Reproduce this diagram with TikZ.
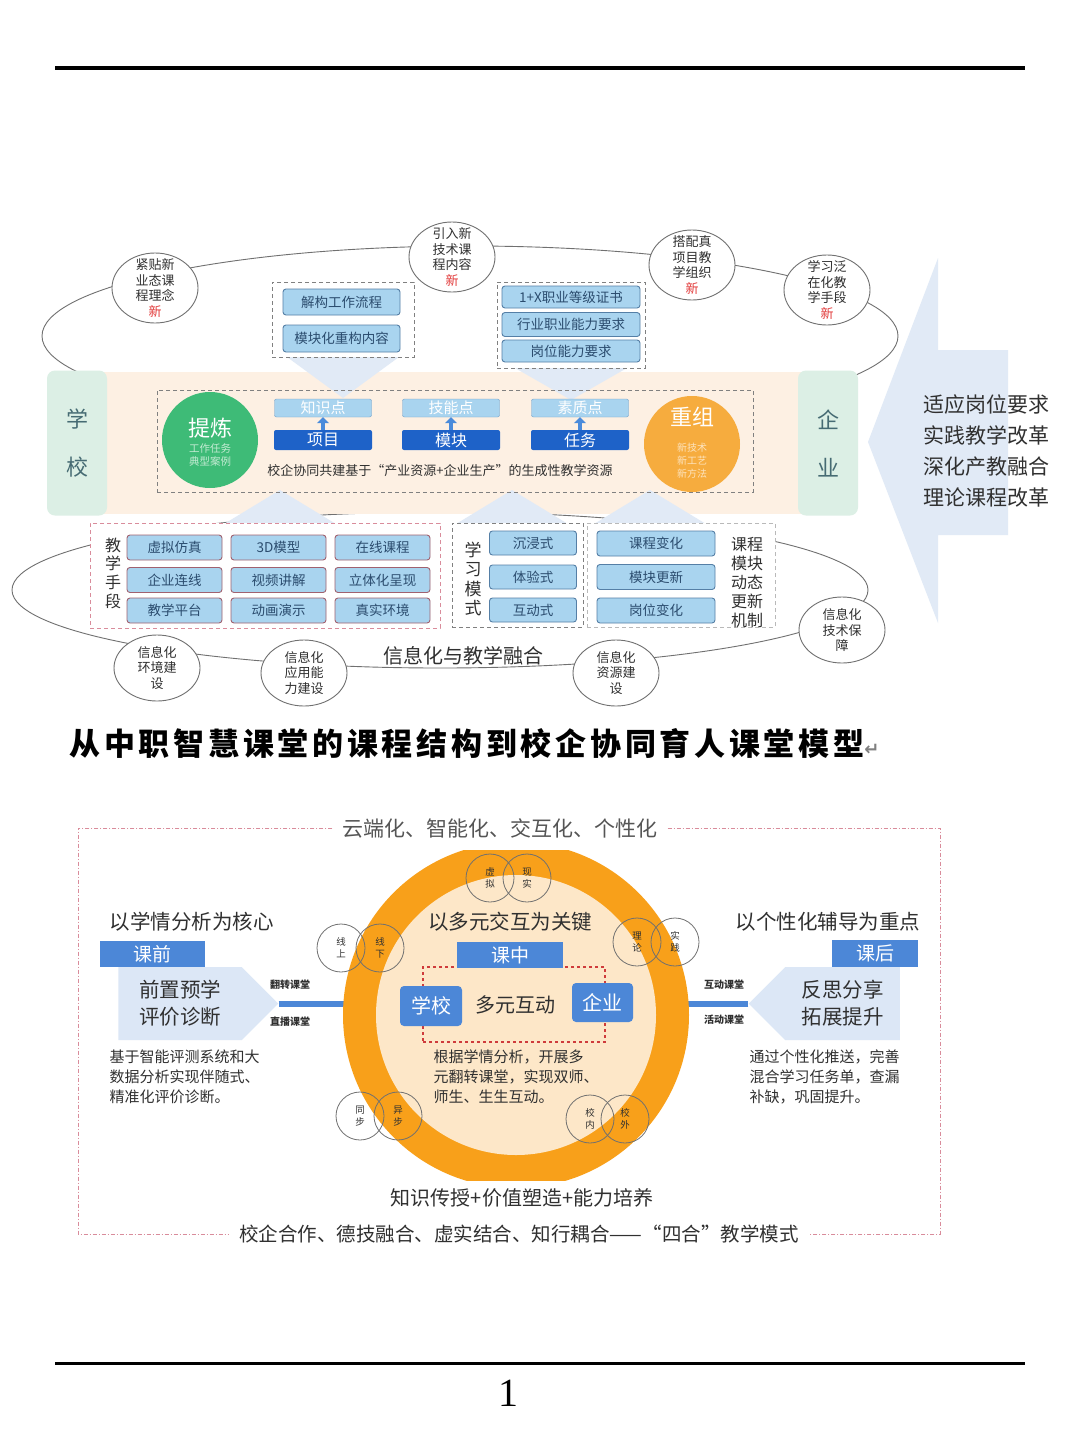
\documentclass[tikz,border=0pt]{standalone}
\usepackage{fontspec}
\setmainfont{Noto Sans CJK SC}
\newfontfamily\titlefont{Noto Sans CJK SC}[LetterSpace=12]
\newfontfamily\arrowfont{DejaVu Sans}
\newfontfamily\digitfont{Liberation Serif}
\usetikzlibrary{positioning,shapes.geometric,shapes.symbols,arrows.meta}

\definecolor{bandpeach}{HTML}{FDF0E3}
\definecolor{sidegreen}{HTML}{DCEFE5}
\definecolor{sidetext}{HTML}{466B73}
\definecolor{paleblue}{HTML}{A9D4EF}
\definecolor{pointedge}{HTML}{6F9FC8}
\definecolor{deepblue}{HTML}{1E62C8}
\definecolor{liftblue}{HTML}{4A8BDB}
\definecolor{leafgreen}{HTML}{3EBB77}
\definecolor{mintgreen}{HTML}{C4EBD3}
\definecolor{sunorange}{HTML}{F6AC3E}
\definecolor{paleorange}{HTML}{FDE3BC}
\definecolor{arrowmist}{HTML}{E1EAF6}
\definecolor{orbitgray}{HTML}{707070}
\definecolor{framegray}{HTML}{808080}
\definecolor{rosedash}{HTML}{D98C9B}
\definecolor{planedge}{HTML}{557FA6}
\definecolor{planrose}{HTML}{A0616F}
\definecolor{planink}{HTML}{2B4C6E}
\definecolor{inkgray}{HTML}{303030}
\definecolor{newred}{HTML}{E23A3A}
\definecolor{ringorange}{HTML}{F8A01A}
\definecolor{ringcore}{HTML}{FDE7C8}
\definecolor{midblue}{HTML}{4C87D7}
\definecolor{tagpale}{HTML}{DCE7F6}
\definecolor{alertred}{HTML}{CF3B3B}
\definecolor{graytext}{HTML}{555555}

\newcommand\fsz[2]{\fontsize{#1}{#2}\selectfont}

\tikzset{
  orbit/.style={draw=orbitgray,line width=0.9pt},
  bubble/.style={ellipse,draw=orbitgray,fill=white,line width=0.9pt,minimum width=86pt,minimum height=70pt,inner sep=0pt},
  bubbletext/.style={font=\fsz{13}{15.5},align=center,text=inkgray},
  sidebox/.style={rounded corners=8pt,fill=sidegreen,minimum width=60pt,minimum height=145pt,font=\fsz{22}{48},align=center,text=sidetext},
  pointbox/.style={rounded corners=2pt,fill=paleblue,draw=pointedge,minimum width=97pt,minimum height=18pt,inner sep=0pt,font=\fsz{15}{15},text=white},
  unitbox/.style={rounded corners=2pt,fill=deepblue,minimum width=98pt,minimum height=20pt,inner sep=0pt,font=\fsz{16}{16},text=white},
  liftarrow/.style={-{Triangle[width=12pt,length=6pt]},line width=4pt,draw=liftblue},
  framebox/.style={draw=framegray,fill=white,dash pattern=on 4pt off 3pt,line width=0.9pt,inner sep=0pt},
  planbox/.style={rounded corners=3pt,fill=paleblue,draw=planedge,line width=0.9pt,minimum height=25pt,inner sep=0pt,font=\fsz{13.5}{13.5},text=planink},
  stack/.style={align=center,text=inkgray},
  framedot/.style={draw=rosedash,line width=0.9pt,dash pattern=on 4pt off 2pt on 1pt off 2pt},
  tagbox/.style={fill=midblue,text=white,inner sep=0pt,font=\fsz{19}{19}},
  tagshape/.style={signal,fill=tagpale,inner sep=0pt,font=\fsz{20.5}{27},align=center,text=inkgray},
  bridge/.style={draw=midblue,line width=6pt},
  pairring/.style={circle,draw=orbitgray,line width=0.8pt,minimum size=48pt,inner sep=0pt,font=\fsz{9.5}{12},align=center,text=inkgray},
  smalltag/.style={font=\bfseries\fsz{10}{10},text=inkgray},
  note/.style={font=\fsz{15}{20},align=left,text=inkgray},
  heading/.style={font=\fsz{20.5}{20.5},text=inkgray}
}

\begin{document}
\begin{tikzpicture}[x=1pt,y=-1pt]
\useasboundingbox (0,0) rectangle (1080,1443);
\fill[white] (0,0) rectangle (1080,1443);
% page rules
\draw[line width=4pt] (55,68) -- (1025,68);
\draw[line width=3pt] (55,1363) -- (1025,1363);
\node[font=\digitfont\fsz{40}{40}] (pageno) at (508,1393) {1};

% curriculum structure
\fill[arrowmist] (868,442) -- (938,258) -- (938,350) -- (1008,350) -- (1008,535) -- (938,535) -- (938,623) -- cycle;
\node[font=\fsz{21}{31},stack] (adapt) at (986,451) {适应岗位要求\\实践教学改革\\深化产教融合\\理论课程改革};

\draw[orbit] (470,336) ellipse [x radius=428, y radius=90];
\draw[orbit] (440,590) ellipse [x radius=428, y radius=78];

\fill[bandpeach] (100,372) rectangle (805,514);
\node[sidebox] (school) at (77,443) {学\\校};
\node[sidebox] (firm) at (828,443) {企\\业};

\foreach \cx/\ytop/\ybot in {343/357/398, 571/368/400}
  \fill[arrowmist] (\cx-56,\ytop) -- (\cx+56,\ytop) -- (\cx,\ybot) -- cycle;
\foreach \cx in {280,512,650}
  \fill[arrowmist] (\cx-56,524) -- (\cx+56,524) -- (\cx,490) -- cycle;

\node[draw=framegray,dash pattern=on 4pt off 3pt,line width=0.9pt,minimum width=596pt,minimum height=102pt,inner sep=0pt] (core) at (455,441) {};
\node[circle,fill=leafgreen,minimum size=96pt,inner sep=0pt] (refine) at (210,440) {};
\node[text=white,font=\fsz{22}{22}] (refine-t) at (210,428) {提炼};
\node[text=mintgreen,font=\fsz{10.5}{12.5},align=center] (refine-s) at (210,455) {工作任务\\典型案例};
\node[circle,fill=sunorange,minimum size=96pt,inner sep=0pt] (regroup) at (692,444) {};
\node[text=white,font=\fsz{22}{22}] (regroup-t) at (692,417) {重组};
\node[text=paleorange,font=\fsz{10}{13},align=center] (regroup-s) at (692,461) {新技术\\新工艺\\新方法};

\foreach \nm/\cx/\up/\down in {know/323/知识点/项目, skill/451/技能点/模块, quality/580/素质点/任务}{
  \node[pointbox] (\nm-up) at (\cx,408) {\up};
  \node[unitbox] (\nm-dn) at (\cx,440) {\down};
  \draw[liftarrow] (\nm-dn) -- (\nm-up);
}
\node[font=\fsz{13}{13},text=inkgray] (resource) at (440,471) {校企协同共建基于“产业资源+企业生产”的生成性教学资源};

\foreach \nm/\x/\y/\la/\lb/\lc in {trend/155/288/紧贴新/业态课/程理念, tech/452/257/引入新/技术课/程内容, proj/692/265/搭配真/项目教/学组织, ubiq/827/290/学习泛/在化教/学手段}{
  \node[bubble] (\nm) at (\x,\y) {};
  \node[bubbletext] (\nm-t) at (\nm) {\la\\\lb\\\lc\\{\color{newred}新}};
}

\node[framebox,minimum width=142pt,minimum height=75pt] (flow) at (343,319.5) {};
\node[planbox,minimum width=117pt,minimum height=26pt] (decon) at (341.5,302) {解构工作流程};
\node[planbox,minimum width=117pt,minimum height=27pt] (remod) at (341.5,338.5) {模块化重构内容};
\node[framebox,minimum width=148pt,minimum height=86pt] (demand) at (571,325) {};
\node[planbox,minimum width=138pt,minimum height=22pt] (cert) at (571,297) {1+X职业等级证书};
\node[planbox,minimum width=138pt,minimum height=24pt] (trade) at (571,324.5) {行业职业能力要求};
\node[planbox,minimum width=138pt,minimum height=22pt] (post) at (571,351) {岗位能力要求};

\node[framebox,draw=rosedash,minimum width=350pt,minimum height=105pt] (means) at (265,575.5) {};
\node[font=\fsz{16}{18.7},stack] (means-t) at (113,573) {教\\学\\手\\段};
\foreach \t/\cx/\cy [count=\i] in {虚拟仿真/174.5/547.5, 3D模型/278.5/547.5, 在线课程/382.5/547.5, 企业连线/174.5/580, 视频讲解/278.5/580, 立体化呈现/382.5/580, 教学平台/174.5/610.5, 动画演示/278.5/610.5, 真实环境/382.5/610.5}
  \node[planbox,draw=planrose,minimum width=95pt] (tool\i) at (\cx,\cy) {\t};
\node[framebox,minimum width=131pt,minimum height=104pt] (mode) at (517.5,575) {};
\node[font=\fsz{17}{19.3},stack] (mode-t) at (473,579) {学\\习\\模\\式};
\foreach \t/\cy [count=\i] in {沉浸式/543,体验式/577,互动式/610}
  \node[planbox,minimum width=87pt,minimum height=24pt] (mode\i) at (533,\cy) {\t};
\node[framebox,draw=framegray!55,minimum width=188pt,minimum height=104pt] (update) at (681,575) {};
\foreach \t/\cy [count=\i] in {课程变化/543.5,模块更新/577,岗位变化/610.5}
  \node[planbox,minimum width=118pt] (upd\i) at (656,\cy) {\t};
\node[font=\fsz{16}{19},stack] (update-t) at (747,583) {课程\\模块\\动态\\更新\\机制};

\foreach \nm/\x/\y/\txt in {env/157/668/{信息化\\环境建\\设}, apply/304/673/{信息化\\应用能\\力建设}, source/616/673/{信息化\\资源建\\设}, guard/842/630/{信息化\\技术保\\障}}{
  \node[bubble,minimum height=66pt] (\nm) at (\x,\y) {};
  \node[bubbletext] (\nm-t) at (\nm) {\txt};
}
\node[font=\fsz{20}{20},text=inkgray] (fusion) at (463,656) {信息化与教学融合};

\node[anchor=west,font=\titlefont\bfseries\fsz{31}{31}] (title) at (66,743) {从中职智慧课堂的课程结构到校企协同育人课堂模型{\arrowfont\fsz{18}{18}\color{gray}↵}};

% classroom model
\node[font=\fsz{21}{21},text=graytext,inner xsep=10pt] (cloud) at (500,828) {云端化、智能化、交互化、个性化};
\node[font=\fsz{19.5}{19.5},text=inkgray,inner xsep=10pt] (fourfold) at (519,1234) {校企合作、德技融合、虚实结合、知行耦合——“四合”教学模式};
\draw[framedot] (cloud.west) -- (78,828) |- (fourfold.west);
\draw[framedot] (cloud.east) -- (940,828) |- (fourfold.east);

\node[anchor=west,heading] (prehead) at (106,922) {以学情分析为核心};
\node[tagbox,minimum width=105pt,minimum height=26pt] (before) at (152.5,954) {课前};
\node[tagshape,signal to=east,minimum width=160pt,minimum height=73pt] (pretag) at (180,1003.5) {前置预学\\评价诊断};
\node[anchor=north west,note] (prenote) at (106,1046) {基于智能评测系统和大\\数据分析实现伴随式、\\精准化评价诊断。};

\node[heading] (posthead) at (828,922) {以个性化辅导为重点};
\node[tagbox,minimum width=86pt,minimum height=27pt] (after) at (875,953.5) {课后};
\node[tagshape,signal to=west,minimum width=151pt,minimum height=73pt] (posttag) at (842.5,1003.5) {反思分享\\拓展提升};
\node[anchor=north west,note] (postnote) at (746,1046) {通过个性化推送，完善\\混合学习任务单，查漏\\补缺，巩固提升。};

\draw[bridge] (pretag.east) -- (345,1003.5);
\draw[bridge] (posttag.west) -- (688,1003.5);
\node[smalltag] (flip) at (290,985) {翻转课堂};
\node[smalltag] (live) at (290,1022) {直播课堂};
\node[smalltag] (interact) at (724,985) {互动课堂};
\node[smalltag] (activity) at (724,1020) {活动课堂};

\begin{scope}
  \clip (300,850) rectangle (740,1180);
  \node[circle,fill=ringorange,minimum size=346pt,inner sep=0pt] (ring) at (516,1015) {};
\end{scope}
\node[circle,fill=ringcore,minimum size=280pt,inner sep=0pt] (ringcore) at (ring) {};

\node[heading] (midhead) at (510,922) {以多元交互为关键};
\node[draw=alertred,dashed,line width=1.5pt,minimum width=182pt,minimum height=75pt,inner sep=0pt] (mixframe) at (514,1004.5) {};
\node[tagbox,minimum width=106pt,minimum height=26pt] (during) at (510,955) {课中};
\node[tagbox,rounded corners=4pt,minimum width=62pt,minimum height=40pt,font=\fsz{20}{20}] (mschool) at (431,1006) {学校};
\node[tagbox,rounded corners=4pt,minimum width=61pt,minimum height=39pt,font=\fsz{20}{20}] (mfirm) at (602.5,1002.5) {企业};
\node[font=\fsz{20}{20},text=inkgray] (multi) at (515,1005) {多元互动};
\node[anchor=north west,note] (midnote) at (430,1046) {根据学情分析，开展多\\元翻转课堂，实现双师、\\师生、生生互动。};

\foreach \nm/\x/\y/\t in {virt/490/878/{虚\\拟}, real/527/878/{现\\实}, online/341/948/{线\\上}, offline/380/948/{线\\下}, theory/637/942/{理\\论}, practice/675/942/{实\\践}, sync/360/1116/{同\\步}, async/398/1116/{异\\步}, campin/590/1119/{校\\内}, campout/625/1119/{校\\外}}
  \node[pairring] (\nm) at (\x,\y) {\t};

\node[font=\fsz{20}{20},text=inkgray] (triad) at (522,1198) {知识传授+价值塑造+能力培养};
\end{tikzpicture}
\end{document}
